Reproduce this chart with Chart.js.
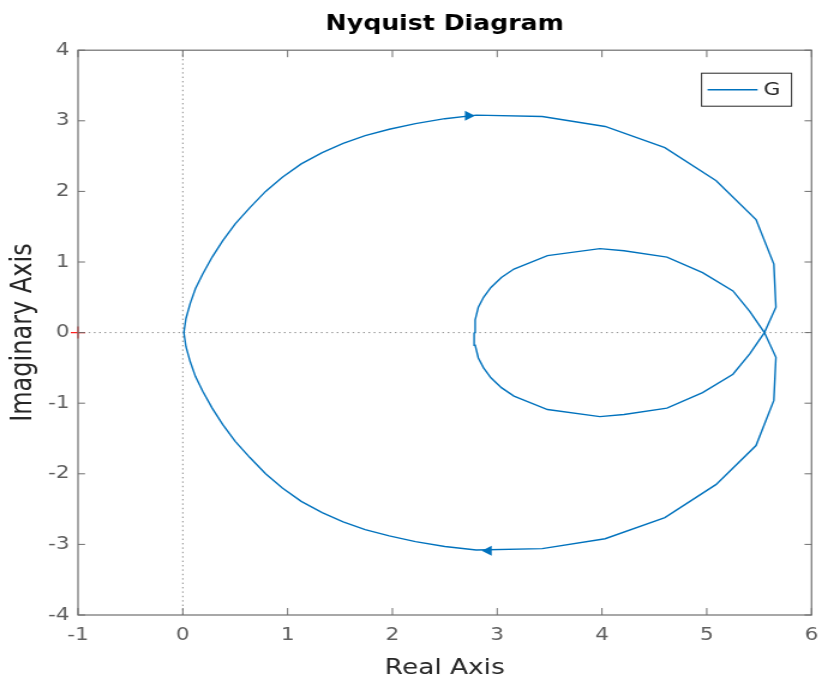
<!DOCTYPE html>
<html>
<head>
<meta charset="utf-8">
<script src="https://cdn.jsdelivr.net/npm/chart.js@4/dist/chart.umd.min.js"></script>
<style>
  html, body { margin: 0; padding: 0; background: #fff; overflow: hidden; }
  /* the reference figure is stretched sideways, so the canvas is too */
  #wrap { width: 692px; height: 682px; transform: scaleX(1.2); transform-origin: 0 0; }
</style>
</head>
<body>
<div id="wrap"><canvas id="nyquistChart" width="692" height="682"></canvas></div>
<script>
// Nyquist curve of G (w from 0 to +inf, then -inf to 0)
const realPart = [
    2.78, 2.79, 2.82, 2.87, 2.94, 3.04, 3.16, 3.48, 3.98, 4.21, 4.62, 4.96, 5.25, 5.41, 5.55,
    5.66, 5.64, 5.47, 5.09, 4.60, 4.03, 3.43, 2.80, 2.50, 2.22, 1.97, 1.74, 1.53, 1.33, 1.13,
    0.95, 0.79, 0.64, 0.50, 0.38, 0.28, 0.19, 0.12, 0.07, 0.03, 0.01,
    0.03, 0.07, 0.12, 0.19, 0.28, 0.38, 0.50, 0.64, 0.79, 0.95, 1.13, 1.33, 1.53, 1.74, 1.97,
    2.22, 2.50, 2.80, 3.43, 4.03, 4.60, 5.09, 5.47, 5.64, 5.66, 5.55, 5.41, 5.25, 4.96, 4.62,
    4.21, 3.98, 3.48, 3.16, 3.04, 2.94, 2.87, 2.82, 2.79, 2.78
];
const imagPart = [
    0.00, 0.18, 0.36, 0.50, 0.64, 0.78, 0.90, 1.09, 1.19, 1.16, 1.07, 0.85, 0.59, 0.30, 0.00,
    -0.35, -0.96, -1.60, -2.15, -2.62, -2.92, -3.06, -3.08, -3.03, -2.96, -2.88, -2.79, -2.68, -2.55, -2.39,
    -2.20, -2.00, -1.77, -1.54, -1.30, -1.07, -0.83, -0.62, -0.41, -0.20, 0.00,
    0.20, 0.41, 0.62, 0.83, 1.07, 1.30, 1.54, 1.77, 2.00, 2.20, 2.39, 2.55, 2.68, 2.79, 2.88,
    2.96, 3.03, 3.08, 3.06, 2.92, 2.62, 2.15, 1.60, 0.97, 0.36, 0.00, -0.30, -0.59, -0.85, -1.07,
    -1.16, -1.19, -1.09, -0.90, -0.78, -0.64, -0.50, -0.36, -0.18, 0.00
];

// direction arrows on the curve (+1 = pointing right, -1 = pointing left)
const arrowX = [2.74, 2.90];
const arrowY = [3.07, -3.09];
const arrowDir = [1, -1];

// critical point -1 + 0j
const criticalPoint = [{ x: -1, y: 0 }];

const xTicks = [-1, 0, 1, 2, 3, 4, 5, 6];
const yTicks = [-4, -3, -2, -1, 0, 1, 2, 3, 4];

const curveColor = '#0072BD';
const axisColor = '#6e6e6e';
const sx = 1 / 1.2; // undo the sideways stretch for horizontal sizes

const curvePoints = realPart.map((re, i) => ({ x: re, y: imagPart[i] }));

// zero lines, axes box with inner ticks, arrows and legend
const nyquistExtras = {
    id: 'nyquistExtras',
    beforeDatasetsDraw(chart) {
        const { ctx, chartArea: a, scales: { x, y } } = chart;
        const x0 = x.getPixelForValue(0);
        const y0 = y.getPixelForValue(0);
        ctx.save();
        ctx.strokeStyle = '#8c8c8c';
        ctx.lineWidth = 1;
        ctx.setLineDash([1.4, 3]);
        ctx.beginPath();
        ctx.moveTo(a.left, y0); ctx.lineTo(a.right, y0);
        ctx.moveTo(x0, a.top); ctx.lineTo(x0, a.bottom);
        ctx.stroke();
        ctx.restore();
    },
    afterDraw(chart) {
        const { ctx, chartArea: a, scales: { x, y } } = chart;
        ctx.save();

        // box
        ctx.strokeStyle = axisColor;
        ctx.lineWidth = 1.2;
        ctx.strokeRect(a.left, a.top, a.right - a.left, a.bottom - a.top);

        // ticks pointing inside, on all four sides
        ctx.lineWidth = 1;
        ctx.beginPath();
        xTicks.forEach(v => {
            const px = x.getPixelForValue(v);
            ctx.moveTo(px, a.bottom); ctx.lineTo(px, a.bottom - 7);
            ctx.moveTo(px, a.top); ctx.lineTo(px, a.top + 7);
        });
        yTicks.forEach(v => {
            const py = y.getPixelForValue(v);
            ctx.moveTo(a.left, py); ctx.lineTo(a.left + 7 * sx, py);
            ctx.moveTo(a.right, py); ctx.lineTo(a.right - 7 * sx, py);
        });
        ctx.stroke();

        // arrows
        ctx.fillStyle = curveColor;
        arrowX.forEach((v, i) => {
            const px = x.getPixelForValue(v);
            const py = y.getPixelForValue(arrowY[i]);
            const d = arrowDir[i];
            ctx.beginPath();
            ctx.moveTo(px + d * 5 * sx, py);
            ctx.lineTo(px - d * 5 * sx, py - 5);
            ctx.lineTo(px - d * 5 * sx, py + 5);
            ctx.closePath();
            ctx.fill();
        });

        // legend box
        const bw = 90 * sx, bh = 33;
        const bx = a.right - 20 * sx - bw, by = a.top + 23;
        ctx.fillStyle = '#fff';
        ctx.fillRect(bx, by, bw, bh);
        ctx.strokeStyle = '#262626';
        ctx.lineWidth = 1;
        ctx.strokeRect(bx, by, bw, bh);
        ctx.strokeStyle = curveColor;
        ctx.lineWidth = 1.4;
        ctx.beginPath();
        ctx.moveTo(bx + 6 * sx, by + bh / 2);
        ctx.lineTo(bx + 56 * sx, by + bh / 2);
        ctx.stroke();
        ctx.fillStyle = '#262626';
        ctx.font = '18px "DejaVu Sans"';
        ctx.textBaseline = 'middle';
        ctx.fillText(chart.data.datasets[0].label, bx + 62 * sx, by + bh / 2 + 1);

        ctx.restore();
    }
};

new Chart(document.getElementById('nyquistChart'), {
    type: 'scatter',
    data: {
        datasets: [
            {
                label: 'G',
                data: curvePoints,
                showLine: true,
                borderColor: curveColor,
                borderWidth: 1.4,
                pointRadius: 0,
                tension: 0,
                fill: false
            },
            {
                label: 'critical',
                data: criticalPoint,
                pointStyle: 'cross',
                pointRadius: 6,
                borderColor: '#ff2020',
                borderWidth: 1.2,
                clip: false
            }
        ]
    },
    options: {
        responsive: false,
        maintainAspectRatio: false,
        animation: false,
        layout: { padding: { left: 0, right: 11, top: 0, bottom: 0 } },
        plugins: {
            legend: { display: false },
            tooltip: { enabled: false },
            title: {
                display: true,
                text: 'Nyquist Diagram',
                fullSize: false,
                color: '#000',
                font: { family: 'DejaVu Sans', size: 21, weight: 'bold' },
                padding: { top: 12, bottom: 13 }
            }
        },
        scales: {
            x: {
                type: 'linear',
                min: -1,
                max: 6,
                afterBuildTicks: s => { s.ticks = xTicks.map(v => ({ value: v })); },
                afterFit: s => { s.height = 67; },
                grid: { display: false, drawTicks: false },
                border: { display: false },
                ticks: {
                    color: '#5f5f5f',
                    padding: 10,
                    font: { family: 'DejaVu Sans', size: 18 }
                },
                title: {
                    display: true,
                    text: 'Real Axis',
                    color: '#262626',
                    font: { family: 'DejaVu Sans', size: 22 },
                    padding: { top: 0, bottom: 1 }
                }
            },
            y: {
                type: 'linear',
                min: -4,
                max: 4,
                afterBuildTicks: s => { s.ticks = yTicks.map(v => ({ value: v })); },
                afterFit: s => { s.width = 65; },
                grid: { display: false, drawTicks: false },
                border: { display: false },
                ticks: {
                    color: '#5f5f5f',
                    padding: 7,
                    font: { family: 'DejaVu Sans', size: 18 }
                },
                title: {
                    display: true,
                    text: 'Imaginary Axis',
                    color: '#262626',
                    font: { family: 'DejaVu Sans', size: 24 },
                    padding: { top: 5, bottom: 0 }
                }
            }
        }
    },
    plugins: [nyquistExtras]
});
</script>
</body>
</html>
